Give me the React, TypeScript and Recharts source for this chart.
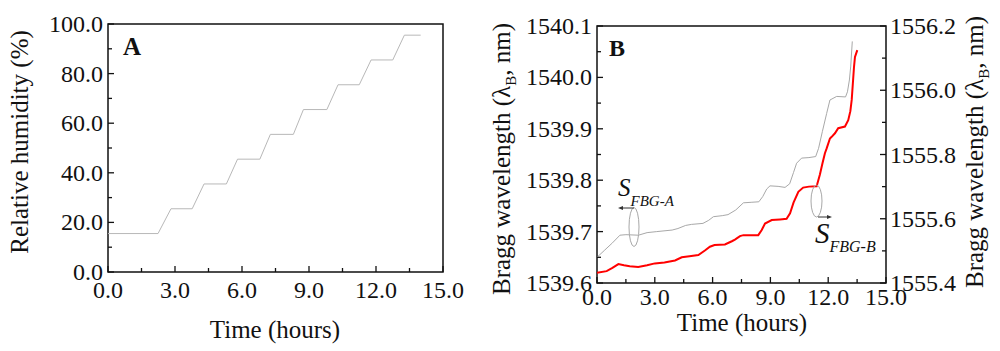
import { LineChart, Line, XAxis, YAxis, ReferenceArea } from 'recharts';

// Panel A: relative humidity steps
const humidityTime = [0, 2.24, 2.82, 3.77, 4.3, 5.3, 5.8, 6.8, 7.27, 8.3, 8.75, 9.8, 10.3, 11.25, 11.78, 12.75, 13.27, 14.0];
const humidityValue = [15.5, 15.5, 25.5, 25.5, 35.5, 35.5, 45.5, 45.5, 55.5, 55.5, 65.5, 65.5, 75.5, 75.5, 85.5, 85.5, 95.5, 95.5];

// Panel B: S_FBG-A (left axis, grey)
const fbgATime = [0, 0.4, 0.8, 1.19, 1.5, 2.15, 2.6, 3.1, 3.9, 4.2, 4.6, 4.9, 5.5, 5.8, 6.04, 6.5, 6.8, 7.2, 7.6, 8.0, 8.4, 8.6, 8.81, 8.98, 9.4, 9.76, 10.0, 10.2, 10.36, 10.62, 11.0, 11.35, 11.5, 11.7, 11.92, 12.09, 12.44, 12.9, 13.0, 13.1, 13.17, 13.25];
const fbgAValue = [1539.650, 1539.664, 1539.678, 1539.693, 1539.694, 1539.693, 1539.698, 1539.700, 1539.703, 1539.706, 1539.712, 1539.714, 1539.716, 1539.722, 1539.729, 1539.731, 1539.733, 1539.742, 1539.756, 1539.757, 1539.758, 1539.768, 1539.783, 1539.789, 1539.788, 1539.786, 1539.793, 1539.815, 1539.833, 1539.843, 1539.844, 1539.846, 1539.862, 1539.895, 1539.930, 1539.956, 1539.963, 1539.962, 1539.972, 1539.995, 1540.022, 1540.070];

// Panel B: S_FBG-B (right axis, red)
const fbgBTime = [0, 0.5, 0.8, 1.11, 1.4, 1.7, 2.14, 2.6, 3.0, 3.5, 4.05, 4.4, 4.8, 5.26, 5.6, 5.86, 6.1, 6.64, 7.0, 7.16, 7.42, 7.6, 8.37, 8.55, 8.72, 9.07, 9.5, 9.84, 10.02, 10.2, 10.45, 10.7, 11.0, 11.4, 11.57, 11.7, 11.83, 11.92, 12.09, 12.18, 12.35, 12.52, 12.87, 13.04, 13.15, 13.22, 13.34, 13.39, 13.51];
const fbgBValue = [1555.432, 1555.437, 1555.447, 1555.459, 1555.455, 1555.452, 1555.450, 1555.455, 1555.461, 1555.464, 1555.470, 1555.480, 1555.483, 1555.487, 1555.501, 1555.513, 1555.518, 1555.520, 1555.530, 1555.535, 1555.546, 1555.549, 1555.549, 1555.565, 1555.585, 1555.596, 1555.598, 1555.600, 1555.617, 1555.650, 1555.684, 1555.697, 1555.700, 1555.701, 1555.738, 1555.772, 1555.804, 1555.819, 1555.850, 1555.855, 1555.866, 1555.882, 1555.887, 1555.907, 1555.935, 1555.970, 1556.073, 1556.104, 1556.125];

// ticks (minor + major) and the labelled ones
const timeTicks = [0, 1.5, 3, 4.5, 6, 7.5, 9, 10.5, 12, 13.5, 15];
const timeLabels = ['0.0', '3.0', '6.0', '9.0', '12.0', '15.0'];
const humidityTicks = [0, 10, 20, 30, 40, 50, 60, 70, 80, 90, 100];
const humidityLabels = ['0.0', '20.0', '40.0', '60.0', '80.0', '100.0'];
const leftTicks = [1539.6, 1539.65, 1539.7, 1539.75, 1539.8, 1539.85, 1539.9, 1539.95, 1540.0, 1540.05, 1540.1];
const leftLabels = ['1539.6', '1539.7', '1539.8', '1539.9', '1540.0', '1540.1'];
const rightTicks = [1555.4, 1555.5, 1555.6, 1555.7, 1555.8, 1555.9, 1556.0, 1556.1, 1556.2];
const rightLabels = ['1555.4', '1555.6', '1555.8', '1556.0', '1556.2'];

const FONT = '"Liberation Serif", "Times New Roman", serif';
const TICK_FS = 24;

const humidityData = humidityTime.map((t, i) => ({ t, v: humidityValue[i] }));
const fbgAData = fbgATime.map((t, i) => ({ t, v: fbgAValue[i] }));
const fbgBData = fbgBTime.map((t, i) => ({ t, v: fbgBValue[i] }));

function makeTick(side: 'bottom' | 'left' | 'right', labels: string[], dy: number) {
  return (props: any) => {
    const { x, y, payload } = props;
    const value = Number(payload.value);
    // major ticks are the ones that carry a label
    const label = labels.find(l => Math.abs(Number(l) - value) < 1e-6);
    const major = label !== undefined;
    const len = major ? 6 : 4;
    if (side === 'bottom') {
      return (
        <g>
          <line x1={x} y1={y} x2={x} y2={y - len} stroke="#111" strokeWidth={1.3} />
          {major && (
            <text x={x} y={y + dy} textAnchor="middle" fontFamily={FONT} fontSize={TICK_FS} fill="#111">{label}</text>
          )}
        </g>
      );
    }
    if (side === 'left') {
      return (
        <g>
          <line x1={x} y1={y} x2={x + len} y2={y} stroke="#111" strokeWidth={1.3} />
          {major && (
            <text x={x - 5} y={y + 8} textAnchor="end" fontFamily={FONT} fontSize={TICK_FS} fill="#111">{label}</text>
          )}
        </g>
      );
    }
    return (
      <g>
        <line x1={x} y1={y} x2={x - len} y2={y} stroke="#111" strokeWidth={1.3} />
        {major && (
          <text x={x + 4} y={y + 8} textAnchor="start" fontFamily={FONT} fontSize={TICK_FS} fill="#111">{label}</text>
        )}
      </g>
    );
  };
}

function Arrow({ x1, x2, y }: { x1: number; x2: number; y: number }) {
  const dir = x2 > x1 ? 1 : -1;
  return (
    <g>
      <line x1={x1} y1={y} x2={x2 - dir * 3} y2={y} stroke="#333" strokeWidth={1} />
      <polygon points={`${x2},${y} ${x2 - dir * 5},${y - 2} ${x2 - dir * 5},${y + 2}`} fill="#333" />
    </g>
  );
}

export default function App() {
  return (
    <div style={{ position: 'absolute', left: 0, top: 0, width: 1000, height: 351, background: '#fff' }}>
      <div style={{ position: 'absolute', left: 0, top: 0 }}>
        <LineChart width={478} height={351} margin={{ top: 24, right: 35, bottom: 49, left: 48 }}>
          <XAxis
            dataKey="t"
            type="number"
            domain={[0, 15]}
            ticks={timeTicks}
            interval={0}
            allowDataOverflow
            height={30}
            tickSize={0}
            tickMargin={0}
            axisLine={false}
            tickLine={false}
            tick={makeTick('bottom', timeLabels, 26)}
          />
          <YAxis
            type="number"
            domain={[0, 100]}
            ticks={humidityTicks}
            interval={0}
            allowDataOverflow
            width={60}
            tickSize={0}
            tickMargin={0}
            axisLine={false}
            tickLine={false}
            tick={makeTick('left', humidityLabels, 0)}
          />
          <ReferenceArea x1={0} x2={15} y1={0} y2={100} fill="none" stroke="#111" strokeWidth={1.5} />
          <Line data={humidityData} dataKey="v" type="linear" stroke="#b8b8b8" strokeWidth={1} dot={false} isAnimationActive={false} />
        </LineChart>
      </div>
      <div style={{ position: 'absolute', left: 480, top: 0 }}>
        <LineChart width={520} height={351} margin={{ top: 26, right: 54, bottom: 38, left: 57 }}>
          <XAxis
            dataKey="t"
            type="number"
            domain={[0, 15]}
            ticks={timeTicks}
            interval={0}
            allowDataOverflow
            height={30}
            tickSize={0}
            tickMargin={0}
            axisLine={false}
            tickLine={false}
            tick={makeTick('bottom', timeLabels, 22)}
          />
          <YAxis
            yAxisId="left"
            orientation="left"
            type="number"
            domain={[1539.6, 1540.1]}
            ticks={leftTicks}
            interval={0}
            allowDataOverflow
            width={60}
            tickSize={0}
            tickMargin={0}
            axisLine={false}
            tickLine={false}
            tick={makeTick('left', leftLabels, 0)}
          />
          <YAxis
            yAxisId="right"
            orientation="right"
            type="number"
            domain={[1555.4, 1556.2]}
            ticks={rightTicks}
            interval={0}
            allowDataOverflow
            width={60}
            tickSize={0}
            tickMargin={0}
            axisLine={false}
            tickLine={false}
            tick={makeTick('right', rightLabels, 0)}
          />
          <ReferenceArea yAxisId="left" x1={0} x2={15} y1={1539.6} y2={1540.1} fill="none" stroke="#111" strokeWidth={1.5} />
          <Line yAxisId="left" data={fbgAData} dataKey="v" type="linear" stroke="#a8a8a8" strokeWidth={1} dot={false} isAnimationActive={false} />
          <Line yAxisId="right" data={fbgBData} dataKey="v" type="linear" stroke="#ff0000" strokeWidth={2} dot={false} isAnimationActive={false} />
        </LineChart>
      </div>
      <svg width={1000} height={351} style={{ position: 'absolute', left: 0, top: 0, pointerEvents: 'none' }} fontFamily={FONT} fill="#111">
        {/* panel A titles */}
        <text x={28} y={142} transform="rotate(-90 28 142)" textAnchor="middle" fontSize={25}>Relative humidity (%)</text>
        <text x={275} y={338} textAnchor="middle" fontSize={25}>Time (hours)</text>
        <text x={123} y={55} fontSize={25} fontWeight="bold">A</text>
        {/* panel B titles */}
        <text x={510} y={159} transform="rotate(-90 510 159)" textAnchor="middle" fontSize={25}>
          Bragg wavelength (λ<tspan fontSize={15} dy={6}>B</tspan><tspan dy={-6}>, nm)</tspan>
        </text>
        <text x={983} y={152} transform="rotate(-90 983 152)" textAnchor="middle" fontSize={25}>
          Bragg wavelength (λ<tspan fontSize={15} dy={6}>B</tspan><tspan dy={-6}>, nm)</tspan>
        </text>
        <text x={742} y={331} textAnchor="middle" fontSize={25}>Time (hours)</text>
        <text x={609} y={56} fontSize={24} fontWeight="bold">B</text>
        {/* S_FBG-A annotation */}
        <text x={618} y={196} fontSize={25} fontStyle="italic">S<tspan fontSize={15} dy={10}>FBG-A</tspan></text>
        <ellipse cx={634} cy={227} rx={5} ry={19.5} fill="none" stroke="#a8a8a8" strokeWidth={1} />
        <Arrow x1={634} x2={618} y={208} />
        {/* S_FBG-B annotation */}
        <text x={815} y={243} fontSize={29} fontStyle="italic">S<tspan fontSize={16} dy={9}>FBG-B</tspan></text>
        <ellipse cx={816.5} cy={201} rx={5.5} ry={16} fill="none" stroke="#a8a8a8" strokeWidth={1} />
        <Arrow x1={818} x2={832} y={217} />
      </svg>
    </div>
  );
}
